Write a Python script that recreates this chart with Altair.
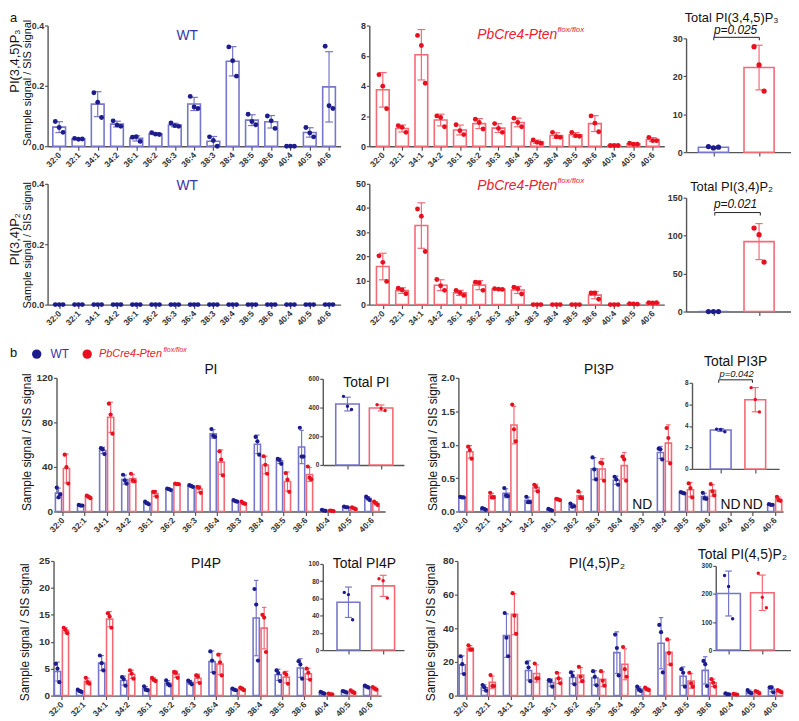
import altair as alt
import pandas as pd

OFF = 8
W, H = 791, 713
FONT = "Liberation Sans, Arial, Helvetica, sans-serif"

CATS = ["32:0", "32:1", "34:1", "34:2", "36:1", "36:2", "36:3", "36:4",
        "38:3", "38:4", "38:5", "38:6", "40:4", "40:5", "40:6"]

# ---------------- panel a : PI(3,4,5)P3 ----------------
A_P3_WT = [[0.082, 0.062, 0.046], [0.026, 0.023, 0.024], [0.177, 0.146, 0.095],
           [0.084, 0.070, 0.066], [0.030, 0.032, 0.016], [0.045, 0.040, 0.039],
           [0.077, 0.068, 0.066], [0.165, 0.130, 0.125], [0.031, 0.019, 0.000],
           [0.329, 0.283, 0.232], [0.106, 0.082, 0.071], [0.100, 0.084, 0.059],
           [0.0, 0.0, 0.0], [0.062, 0.044, 0.031], [0.331, 0.134, 0.125]]
A_P3_KO = [[4.74, 3.98, 2.49], [1.36, 1.25, 0.92], [7.34, 6.67, 4.17],
           [2.01, 1.90, 1.29], [1.42, 1.03, 0.77], [1.79, 1.57, 1.14],
           [1.50, 1.18, 0.92], [1.86, 1.57, 1.29], [0.42, 0.26, 0.20],
           [0.92, 0.63, 0.59], [0.92, 0.70, 0.66], [2.01, 1.53, 0.96],
           [0.05, 0.05, 0.05], [0.20, 0.13, 0.13], [0.59, 0.37, 0.37]]
A_P3_TOT_WT = [1.48, 1.13, 1.30]
A_P3_TOT_KO = [27.8, 23.0, 16.1]

# ---------------- panel a : PI(3,4)P2 ----------------
A_P2_WT = [[0, 0, 0], [0, 0, 0], [0, 0, 0], [0, 0, 0], [0, 0, 0], [0, 0, 0],
           [0, 0, 0], [0, 0, 0], [0, 0, 0], [0, 0, 0], [0, 0, 0], [0, 0, 0],
           [0, 0, 0], [0, 0, 0], [0, 0, 0]]
A_P2_KO = [[20.2, 17.5, 9.6], [6.8, 6.1, 4.5], [39.6, 36.6, 22.0],
           [10.4, 7.8, 5.9], [5.9, 4.9, 3.8], [9.3, 9.0, 5.9],
           [6.6, 6.4, 6.3], [7.2, 6.6, 4.4], [0, 0, 0],
           [0, 0, 0], [0, 0, 0], [4.8, 4.8, 2.2],
           [0, 0, 0], [0.4, 0.3, 0.2], [0.8, 0.7, 0.8]]
A_P2_TOT_WT = [0, 0, 0]
A_P2_TOT_KO = [110.0, 101.3, 65.2]

# ---------------- panel b : PI ----------------
B_PI_WT = [[21.5, 12.7, 15.3], [5.9, 5.3, 5.3], [56.9, 56.0, 51.6], [33.0, 28.0, 25.0],
           [8.8, 7.4, 6.5], [20.6, 20.1, 19.2], [23.6, 23.0, 22.1], [74.0, 68.0, 67.0],
           [10.3, 9.4, 8.8], [67.0, 63.0, 51.0], [47.2, 46.3, 42.8], [75.2, 49.3, 49.3],
           [1.5, 0.9, 0.6], [4.4, 3.8, 3.8], [13.3, 11.8, 10.3]]
B_PI_KO = [[51.0, 39.8, 25.1], [14.2, 13.3, 12.0], [96.8, 87.0, 69.9], [33.9, 28.0, 27.1],
           [17.7, 17.7, 13.3], [25.0, 24.5, 24.5], [22.1, 21.5, 16.8], [54.0, 46.6, 32.4],
           [8.8, 7.4, 6.8], [49.6, 41.9, 33.9], [34.5, 28.6, 17.7], [40.4, 30.4, 28.9],
           [0.9, 0.6, 0.3], [3.8, 2.9, 2.1], [8.8, 7.4, 5.9]]
B_PI_TOT_WT = [478, 409, 386]
B_PI_TOT_KO = [420, 393, 379]

# ---------------- panel b : PI3P (None = ND) ----------------
B_PI3P_WT = [[0.22, 0.21, 0.21], [0.05, 0.04, 0.025], [0.35, 0.24, 0.23], [0.22, 0.14, 0.14],
             [0.04, 0.025, 0.015], [0.12, 0.07, 0.08], [0.81, 0.63, 0.48], [0.52, 0.48, 0.40],
             None, [0.94, 0.93, 0.78], [0.29, 0.28, 0.27], [0.28, 0.20, 0.19],
             None, None, [0.11, 0.10, 0.10]]
B_PI3P_KO = [[0.97, 0.92, 0.79], [0.28, 0.21, 0.21], [1.60, 1.23, 1.05], [0.40, 0.37, 0.30],
             [0.19, 0.18, 0.17], [0.30, 0.21, 0.20], [0.73, 0.72, 0.46], [0.82, 0.78, 0.46],
             None, [1.25, 1.10, 0.72], [0.42, 0.35, 0.21], [0.41, 0.30, 0.24],
             None, None, [0.22, 0.17, 0.16]]
B_PI3P_TOT_WT = [3.70, 3.67, 3.46]
B_PI3P_TOT_KO = [7.55, 6.45, 5.30]

# ---------------- panel b : PI4P ----------------
B_PI4P_WT = [[5.9, 5.0, 2.5], [1.1, 0.86, 0.68], [7.45, 6.03, 4.68], [3.45, 3.08, 1.85],
             [1.72, 1.10, 0.98], [2.83, 2.20, 1.90], [2.80, 2.50, 2.10], [8.2, 6.5, 4.25],
             [1.3, 1.1, 1.0], [19.8, 16.9, 6.5], [4.68, 4.2, 2.7], [6.4, 5.8, 3.14],
             [0.68, 0.5, 0.37], [0.86, 0.74, 0.6], [1.85, 1.66, 1.5]]
B_PI4P_KO = [[12.6, 12.2, 11.6], [3.3, 2.5, 2.2], [15.3, 14.7, 12.6], [4.68, 4.06, 3.14],
             [3.3, 2.95, 2.7], [4.4, 4.25, 3.3], [3.75, 3.57, 2.34], [7.6, 6.2, 3.75],
             [1.5, 1.3, 1.0], [15.0, 14.5, 8.1], [4.2, 3.9, 2.2], [5.0, 4.25, 2.95],
             [0.37, 0.25, 0.25], [1.0, 0.68, 0.5], [1.6, 1.3, 1.1]]
B_PI4P_TOT_WT = [67.0, 64.4, 35.2]
B_PI4P_TOT_KO = [82.8, 80.5, 60.5]

# ---------------- panel b : PI(4,5)P2 ----------------
B_P2_WT = [[23.4, 18.7, 12.8], [6.3, 4.9, 2.9], [49.1, 34.4, 23.4], [19.6, 16.7, 8.6],
           [9.2, 8.8, 5.3], [13.8, 11.8, 6.7], [14.5, 11.2, 6.1], [36.3, 28.3, 12.0],
           [5.3, 3.7, 2.75], [42.0, 37.7, 13.8], [15.7, 13.6, 5.3], [20.6, 18.7, 5.7],
           [1.4, 0.8, 0.8], [3.3, 2.0, 1.4], [4.9, 4.9, 2.0]]
B_P2_KO = [[29.9, 27.3, 27.3], [12.2, 5.7, 5.7], [60.9, 47.5, 36.7], [19.1, 10.2, 10.2],
           [13.6, 10.2, 7.3], [17.1, 11.2, 8.6], [14.5, 8.8, 5.9], [28.9, 15.7, 11.2],
           [4.7, 3.7, 3.3], [33.4, 25.3, 18.5], [13.6, 7.3, 5.3], [9.8, 7.7, 5.3],
           [1.0, 0.8, 0.6], [2.75, 2.2, 1.4], [3.3, 2.75, 2.0]]
B_P2_TOT_WT = [266, 227, 112]
B_P2_TOT_KO = [274, 188, 151]

# ---------------- styling ----------------
BLUE_DOT = "#1c1c8c"
BLUE_BAR = "#7676ca"
BLUE_TXT = "#3636a8"
RED_DOT = "#e8101e"
RED_BAR = "#f36a76"
RED_TXT = "#e82030"

LABEL_EXPR = "[" + ",".join("'%s'" % c for c in CATS) + "][datum.value]"


def series_df(wt, ko):
    rows = []
    for g, series in ((0, wt), (1, ko)):
        if series is None:
            continue
        for i, trip in enumerate(series):
            if trip is None:
                continue
            for r, v in enumerate(trip):
                rows.append({"i": i, "g": g, "r": r, "v": v})
    return pd.DataFrame(rows)


def total_df(wt, ko):
    rows = []
    for g, trip in ((0, wt), (1, ko)):
        for r, v in enumerate(trip):
            rows.append({"i": g, "g": g, "r": r, "v": v})
    return pd.DataFrame(rows)


def cond(a, b):
    return alt.condition("datum.g == 0", alt.value(a), alt.value(b))


def panel(df, n, xdom, xr, ydom, yr, yticks, yfmt, goff, hw, roff, cap, dot,
          labels=True, xlab=8.5, ylab=9, nd=None, bw=1.6):
    xs = alt.Scale(type="linear", domain=xdom, range=[xr[0] - OFF, xr[1] - OFF],
                   nice=False, zero=False)
    ys = alt.Scale(type="linear", domain=ydom, range=[yr[0] - OFF, yr[1] - OFF],
                   nice=False, zero=False)
    if labels:
        xaxis = alt.Axis(orient="bottom", offset=(yr[0] - OFF) - H, values=list(range(n)),
                         labelExpr=LABEL_EXPR, labelAngle=-45, labelAlign="right",
                         labelBaseline="middle", labelFontSize=xlab, labelOverlap=False,
                         labelPadding=3, title=None)
    else:
        xaxis = alt.Axis(orient="bottom", offset=(yr[0] - OFF) - H, values=list(range(n)),
                         labels=False, title=None)
    yaxis = alt.Axis(orient="left", offset=-(xr[0] - OFF), values=yticks, format=yfmt,
                     labelFontSize=ylab, labelOverlap=False, labelPadding=1, tickSize=3,
                     title=None)
    gexpr = "(datum.g == 0 ? %s : %s)" % (goff[0], goff[1])
    base = alt.Chart(df)
    agg = base.transform_aggregate(m="mean(v)", s="stdev(v)", groupby=["i", "g"]).transform_calculate(
        c="datum.i + " + gexpr,
        x0="datum.i + %s - %s" % (gexpr, hw),
        x1="datum.i + %s + %s" % (gexpr, hw),
        c0="datum.i + %s - %s" % (gexpr, cap),
        c1="datum.i + %s + %s" % (gexpr, cap),
        hi="datum.m + datum.s",
        lo="max(datum.m - datum.s, 0)",
    )
    bars = agg.mark_bar(fill="white", strokeWidth=bw).encode(
        x=alt.X("x0:Q", scale=xs, axis=xaxis), x2="x1:Q",
        y=alt.Y("m:Q", scale=ys, axis=yaxis), y2=alt.datum(0),
        stroke=cond(BLUE_BAR, RED_BAR))
    err = agg.mark_rule(strokeWidth=1.2).encode(
        x=alt.X("c:Q", scale=xs, axis=xaxis),
        y=alt.Y("lo:Q", scale=ys, axis=yaxis), y2="hi:Q",
        stroke=cond(BLUE_BAR, RED_BAR))
    cap_t = agg.mark_rule(strokeWidth=1.2).encode(
        x=alt.X("c0:Q", scale=xs, axis=xaxis), x2="c1:Q",
        y=alt.Y("hi:Q", scale=ys, axis=yaxis),
        stroke=cond(BLUE_BAR, RED_BAR))
    cap_b = agg.mark_rule(strokeWidth=1.2).encode(
        x=alt.X("c0:Q", scale=xs, axis=xaxis), x2="c1:Q",
        y=alt.Y("lo:Q", scale=ys, axis=yaxis),
        stroke=cond(BLUE_BAR, RED_BAR))
    pts = base.transform_calculate(
        px="datum.i + %s + (datum.r - 1) * %s" % (gexpr, roff)
    ).mark_circle(size=dot, opacity=1).encode(
        x=alt.X("px:Q", scale=xs, axis=xaxis),
        y=alt.Y("v:Q", scale=ys, axis=yaxis),
        color=cond(BLUE_DOT, RED_DOT))
    parts = [bars, err, cap_t, cap_b, pts]
    if nd:
        ndf = pd.DataFrame({"i": nd, "z": [0] * len(nd)})
        parts.append(alt.Chart(ndf).mark_text(text="ND", fontSize=14, font=FONT,
                                               baseline="alphabetic", dy=-3, color="#111").encode(
            x=alt.X("i:Q", scale=xs, axis=xaxis), y=alt.Y("z:Q", scale=ys, axis=yaxis)))
    return alt.layer(*parts)


def txt(s, x, y, size=12, color="#111", align="center", baseline="middle", angle=0,
        style="normal", weight="normal"):
    return alt.Chart(pd.DataFrame({"t": [s]})).mark_text(
        fontSize=size, color=color, align=align, baseline=baseline, angle=angle,
        fontStyle=style, fontWeight=weight, font=FONT).encode(
        text="t:N", x=alt.value(x - OFF), y=alt.value(y - OFF))


def rule(x1, y1, x2, y2, color="#222", w=1.0):
    return alt.Chart(pd.DataFrame({"k": [0]})).mark_rule(color=color, strokeWidth=w).encode(
        x=alt.value(x1 - OFF), y=alt.value(y1 - OFF), x2=alt.value(x2 - OFF), y2=alt.value(y2 - OFF))


def dot(x, y, color, size=90):
    return alt.Chart(pd.DataFrame({"k": [0]})).mark_circle(color=color, size=size, opacity=1).encode(
        x=alt.value(x - OFF), y=alt.value(y - OFF))


def bracket(x1, x2, y, drop=3):
    return [rule(x1, y, x2, y), rule(x1, y, x1, y + drop), rule(x2, y, x2, y + drop)]


layers = []

# ---- panel a, row 1
layers.append(panel(series_df(A_P3_WT, None), 15, [-0.6, 14.6], (48, 344), [0, 0.4], (144, 22),
                    [0, 0.2, 0.4], ".1f", (0, 0), 0.33, 0.2, 0.2, 24))
layers.append(panel(series_df(None, A_P3_KO), 15, [-0.7, 14.6], (373, 671), [0, 8], (144, 22),
                    [0, 2, 4, 6, 8], "d", (0, 0), 0.33, 0.2, 0.2, 24))
layers.append(panel(total_df(A_P3_TOT_WT, A_P3_TOT_KO), 2, [-0.6, 1.7], (693, 799), [0, 30], (150, 35),
                    [0, 10, 20, 30], "d", (0, 0), 0.33, 0.11, 0.08, 28, labels=False))
# ---- panel a, row 2
layers.append(panel(series_df(A_P2_WT, None), 15, [-0.6, 14.6], (48, 344), [0, 0.4], (304, 182),
                    [0, 0.2, 0.4], ".1f", (0, 0), 0.33, 0.2, 0.2, 24))
layers.append(panel(series_df(None, A_P2_KO), 15, [-0.7, 14.6], (373, 671), [0, 50], (304, 182),
                    [0, 10, 20, 30, 40, 50], "d", (0, 0), 0.33, 0.2, 0.2, 24))
layers.append(panel(total_df(A_P2_TOT_WT, A_P2_TOT_KO), 2, [-0.6, 1.7], (693, 799), [0, 150], (311, 196),
                    [0, 50, 100, 150], "d", (0, 0), 0.33, 0.11, 0.08, 28, labels=False))

# ---- panel b
GOFF = (-0.18, 0.18)
layers.append(panel(series_df(B_PI_WT, B_PI_KO), 15, [-0.27, 14.6], (57, 389), [0, 120], (513, 378),
                    [0, 40, 80, 120], "d", GOFF, 0.14, 0.08, 0.1, 18, ylab=10))
layers.append(panel(series_df(B_PI3P_WT, B_PI3P_KO), 15, [-0.34, 14.38], (463, 791), [0, 2], (513, 378),
                    [0, 0.5, 1.0, 1.5, 2.0], ".1f", GOFF, 0.14, 0.08, 0.1, 18, ylab=10, nd=[8, 12, 13]))
layers.append(panel(series_df(B_PI4P_WT, B_PI4P_KO), 15, [-0.36, 14.48], (54, 385), [0, 25], (699, 563),
                    [0, 5, 10, 15, 20, 25], "d", GOFF, 0.14, 0.08, 0.1, 18, ylab=10))
layers.append(panel(series_df(B_P2_WT, B_P2_KO), 15, [-0.4, 14.3], (462, 790), [0, 80], (699, 563),
                    [0, 20, 40, 60, 80], "d", GOFF, 0.14, 0.08, 0.1, 18, ylab=10))
# insets
layers.append(panel(total_df(B_PI_TOT_WT, B_PI_TOT_KO), 2, [-0.735, 1.68], (326, 408), [0, 600], (466, 379),
                    [0, 200, 400, 600], "d", (0, 0), 0.35, 0.12, 0.1, 12, labels=False, ylab=6.5))
layers.append(panel(total_df(B_PI3P_TOT_WT, B_PI3P_TOT_KO), 2, [-0.83, 1.69], (699, 787), [0, 8], (470, 383),
                    [0, 2, 4, 6, 8], "d", (0, 0), 0.3, 0.12, 0.1, 12, labels=False, ylab=6.5))
layers.append(panel(total_df(B_PI4P_TOT_WT, B_PI4P_TOT_KO), 2, [-0.74, 1.6], (326, 408), [0, 100], (653, 566),
                    [0, 20, 40, 60, 80, 100], "d", (0, 0), 0.33, 0.12, 0.1, 12, labels=False, ylab=6.5))
layers.append(panel(total_df(B_P2_TOT_WT, B_P2_TOT_KO), 2, [-0.38, 1.85], (723, 799), [0, 300], (653, 568),
                    [0, 100, 200, 300], "d", (0, 0), 0.35, 0.12, 0.1, 12, labels=False, ylab=6.5))

# ---- texts, panel a
YT = "Sample signal / SIS signal"
layers += [
    txt("a", 10, 9, size=13, align="left", baseline="top"),
    txt("PI(3,4,5)P₃", 15, 58, size=13, angle=270),
    txt(YT, 28, 80, size=11, angle=270),
    txt("PI(3,4)P₂", 15, 238, size=13, angle=270),
    txt(YT, 28, 244, size=11, angle=270),
    txt("WT", 189, 33, size=14, color=BLUE_TXT),
    txt("WT", 189, 184, size=14, color=BLUE_TXT),
    txt("PbCre4-Pten", 482, 32, size=14, color=RED_TXT, align="left", style="italic"),
    txt("flox/flox", 563, 27, size=8, color=RED_TXT, align="left", style="italic"),
    txt("PbCre4-Pten", 482, 184, size=14, color=RED_TXT, align="left", style="italic"),
    txt("flox/flox", 563, 179, size=8, color=RED_TXT, align="left", style="italic"),
    txt("Total PI(3,4,5)P₃", 739, 14, size=13),
    txt("p=0.025", 743, 27, size=12, style="italic"),
    txt("Total PI(3,4)P₂", 739, 185, size=13),
    txt("p=0.021", 743, 202, size=12, style="italic"),
]
layers += bracket(721, 767, 34)
layers += bracket(722, 768, 211)

# ---- texts, panel b
layers += [
    txt("b", 10, 353, size=13, align="left"),
    dot(37, 354, BLUE_DOT),
    txt("WT", 51, 354, size=12, color=BLUE_TXT, align="left"),
    dot(88, 354, RED_DOT),
    txt("PbCre4-Pten", 100, 354, size=11, color=RED_TXT, align="left", style="italic"),
    txt("flox/flox", 165, 350, size=7, color=RED_TXT, align="left", style="italic"),
    txt("PI", 213, 370, size=14),
    txt("PI3P", 605, 370, size=14),
    txt("PI4P", 208, 566, size=14),
    txt("PI(4,5)P₂", 603, 566, size=14),
    txt(YT, 27, 443, size=12, angle=270),
    txt(YT, 437, 443, size=12, angle=270),
    txt(YT, 25, 635, size=12, angle=270),
    txt(YT, 435, 635, size=12, angle=270),
    txt("Total PI", 370, 383, size=14),
    txt("Total PI3P", 743, 362, size=14),
    txt("p=0.042", 744, 374, size=9.5, style="italic"),
    txt("Total PI4P", 368, 566, size=14),
    txt("Total PI(4,5)P₂", 750, 557, size=14),
]
layers += bracket(726, 760, 380)

chart = alt.layer(*layers).resolve_scale(x="independent", y="independent").properties(
    width=W, height=H, padding=0, autosize=alt.AutoSizeParams(type="none")
).configure_view(stroke=None).configure_axis(
    grid=False, domainColor="#555", domainWidth=1.4, tickColor="#555", tickWidth=1.2,
    tickSize=4, labelFont=FONT, labelFontWeight="bold", labelColor="#333"
)

chart.save("out.html", embed_options={"renderer": "svg", "actions": False})
